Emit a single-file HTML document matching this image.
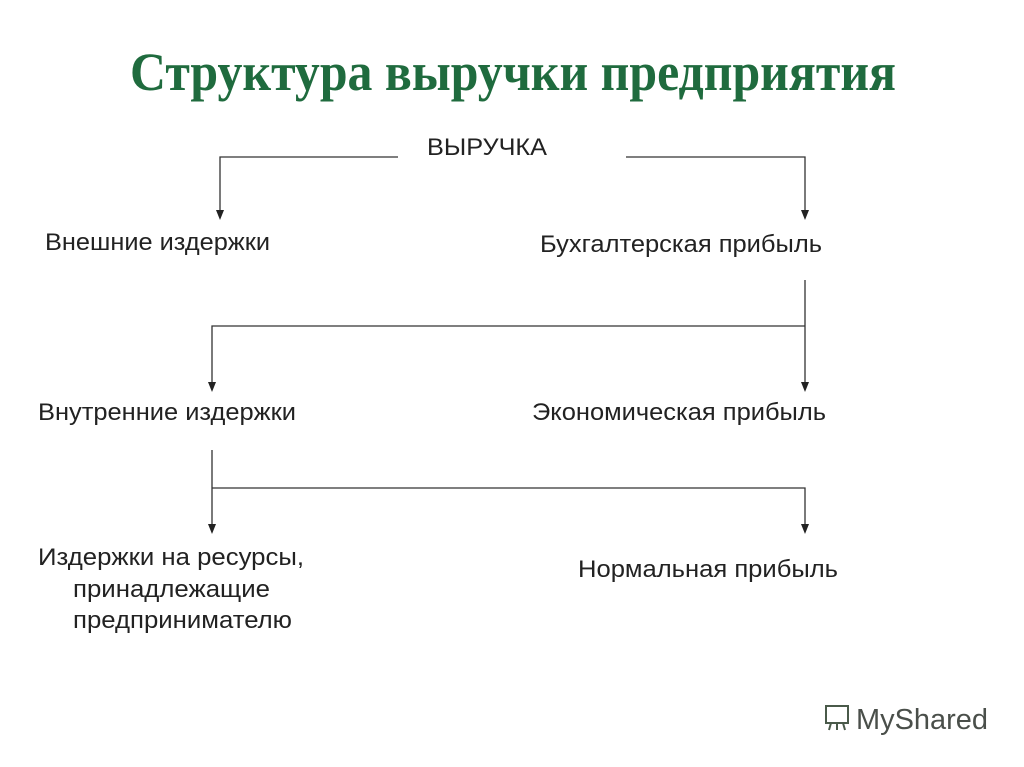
<!DOCTYPE html>
<html><head><meta charset="utf-8"><style>
html,body{margin:0;padding:0;background:#fff;}
svg{display:block;}
</style></head><body>
<svg width="1024" height="767" viewBox="0 0 1024 767" xmlns="http://www.w3.org/2000/svg">
<text x="130" y="90" font-family="Liberation Serif, serif" font-size="54" font-weight="bold" fill="#1f6b3e" textLength="766" lengthAdjust="spacingAndGlyphs">Структура выручки предприятия</text>
<g stroke="#333" stroke-width="1.3" fill="none">
<polyline points="398,157 220,157 220,212"/>
<polyline points="626,157 805,157 805,212"/>
<line x1="805" y1="280" x2="805" y2="384"/>
<polyline points="805,326 212,326 212,384"/>
<line x1="212" y1="450" x2="212" y2="526"/>
<polyline points="212,488 805,488 805,526"/>
</g>
<g fill="#222">
<path d="M216,210 L224,210 L220,220 z"/>
<path d="M801,210 L809,210 L805,220 z"/>
<path d="M801,382 L809,382 L805,392 z"/>
<path d="M208,382 L216,382 L212,392 z"/>
<path d="M208,524 L216,524 L212,534 z"/>
<path d="M801,524 L809,524 L805,534 z"/>
</g>
<g font-family="Liberation Sans, sans-serif" font-size="24" fill="#222">
<text x="427" y="155" textLength="120" lengthAdjust="spacingAndGlyphs">ВЫРУЧКА</text>
<text x="45" y="250" textLength="225" lengthAdjust="spacingAndGlyphs">Внешние издержки</text>
<text x="540" y="252" textLength="282" lengthAdjust="spacingAndGlyphs">Бухгалтерская прибыль</text>
<text x="38" y="420" textLength="258" lengthAdjust="spacingAndGlyphs">Внутренние издержки</text>
<text x="532" y="420" textLength="294" lengthAdjust="spacingAndGlyphs">Экономическая прибыль</text>
<text x="38" y="565" textLength="266" lengthAdjust="spacingAndGlyphs">Издержки на ресурсы,</text>
<text x="73" y="597" textLength="197" lengthAdjust="spacingAndGlyphs">принадлежащие</text>
<text x="73" y="628" textLength="219" lengthAdjust="spacingAndGlyphs">предпринимателю</text>
<text x="578" y="577" textLength="260" lengthAdjust="spacingAndGlyphs">Нормальная прибыль</text>
</g>
<g transform="translate(822,703)" stroke="#4a5a4a" stroke-width="2" fill="none">
<rect x="4" y="3" width="22" height="17"/>
<line x1="9" y1="20" x2="7" y2="27"/><line x1="15" y1="20" x2="15" y2="27"/><line x1="21" y1="20" x2="23" y2="27"/>
</g>
<text x="856" y="729" font-family="Liberation Sans, sans-serif" font-size="29" fill="#4a4f4a" textLength="132" lengthAdjust="spacingAndGlyphs">MyShared</text>
</svg>
</body></html>
